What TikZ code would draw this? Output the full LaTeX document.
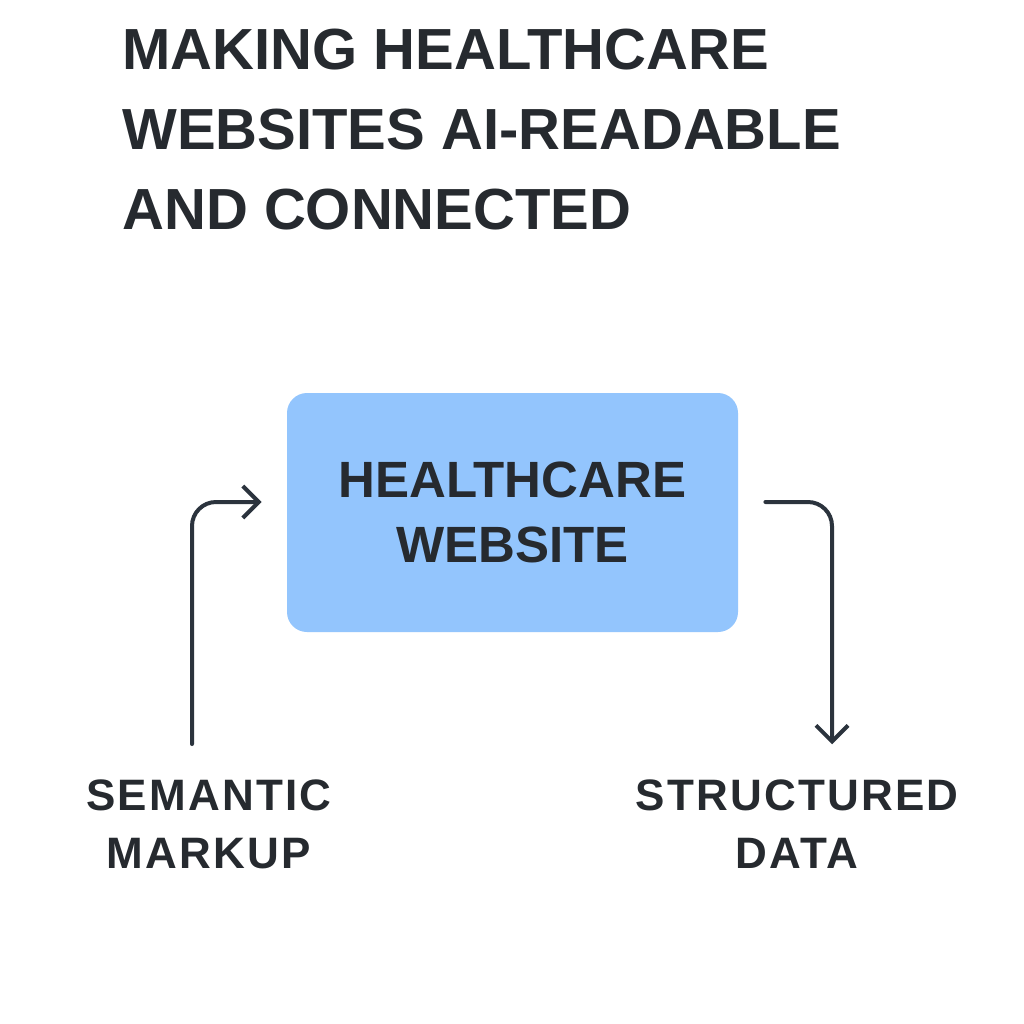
\documentclass[tikz,border=0pt]{standalone}
\usepackage{fontspec}
\setmainfont{Liberation Sans}
\newfontfamily\trackedsans{Liberation Sans}[LetterSpace=5]
\usepackage{tikz}
\usetikzlibrary{arrows.meta,calc,positioning}

\definecolor{boxblue}{HTML}{93C5FD}
\definecolor{inkdark}{HTML}{262A2F}
\definecolor{linedark}{HTML}{2B333D}

\tikzset{
  heading/.style={anchor=north west,inner sep=0pt,align=left,text=inkdark,
    font=\bfseries\fontsize{29}{40}\selectfont},
  sitebox/.style={rectangle,rounded corners=10pt,fill=boxblue,draw=none,
    minimum width=225.5pt,minimum height=119.5pt,align=center,text=inkdark,
    font=\bfseries\fontsize{25.5}{32.5}\selectfont},
  caption/.style={align=center,inner sep=0pt,text=inkdark,
    font=\trackedsans\bfseries\fontsize{22}{29}\selectfont},
  link/.style={draw=linedark,line width=2pt,line cap=round,rounded corners=12pt,
    -{Straight Barb[length=8pt,width=16pt,line width=2pt]}}
}

\begin{document}
\begin{tikzpicture}[x=0.5pt,y=-0.5pt]
        \useasboundingbox[fill=white] (0,0) rectangle (1024,1024);

        \node[heading] (title) at (122,29) {MAKING HEALTHCARE\\WEBSITES AI-READABLE\\AND CONNECTED};

        \node[sitebox] (web) at (512.5,512.5) {HEALTHCARE\\WEBSITE};

        \node[caption] (sem) at (209,824) {SEMANTIC\\MARKUP};
        \node[caption] (str) at (797,824) {STRUCTURED\\DATA};

        \draw[link] ($(sem.north)+(-17,-35)$) |- ($(web.west)+(-25,-10.5)$);
        \draw[link] ($(web.east)+(27,-10.5)$) -| ($(str.north)+(35,-35)$);
      \end{tikzpicture}
\end{document}
